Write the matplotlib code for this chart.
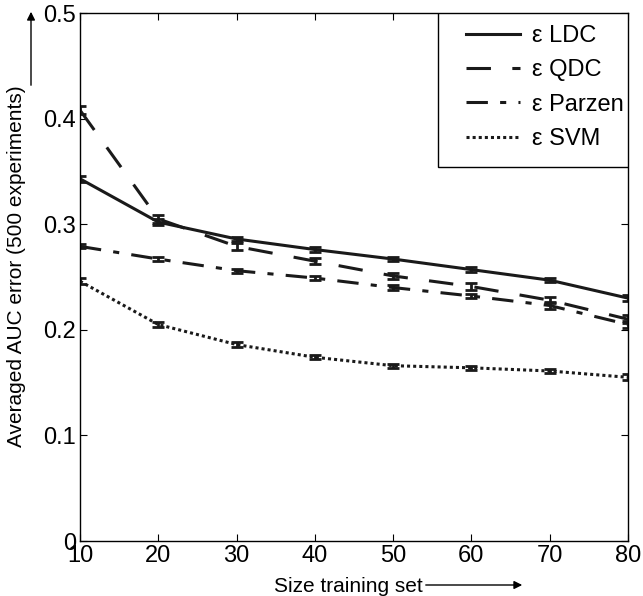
import matplotlib
matplotlib.use('Agg')
import matplotlib.pyplot as plt
from matplotlib.patches import Rectangle, FancyArrowPatch

plt.rcParams['font.family'] = ['Liberation Sans', 'DejaVu Sans']

# training set sizes
sizes = [10, 20, 30, 40, 50, 60, 70, 80]

# averaged AUC error per classifier
err_ldc = [0.343, 0.302, 0.286, 0.276, 0.267, 0.257, 0.247, 0.230]
err_qdc = [0.408, 0.305, 0.279, 0.265, 0.251, 0.241, 0.228, 0.210]
err_parzen = [0.279, 0.267, 0.256, 0.249, 0.240, 0.232, 0.223, 0.205]
err_svm = [0.246, 0.205, 0.186, 0.174, 0.166, 0.164, 0.161, 0.155]

# standard errors (500 experiments)
se_ldc = [0.003, 0.003, 0.002, 0.002, 0.002, 0.002, 0.002, 0.003]
se_qdc = [0.004, 0.004, 0.003, 0.003, 0.003, 0.003, 0.003, 0.004]
se_parzen = [0.002, 0.002, 0.002, 0.002, 0.002, 0.002, 0.003, 0.003]
se_svm = [0.003, 0.002, 0.002, 0.002, 0.002, 0.002, 0.002, 0.003]

labels = ['\u03b5 LDC', '\u03b5 QDC', '\u03b5 Parzen', '\u03b5 SVM']

W, H = 643, 596
fig = plt.figure(figsize=(W / 100, H / 100), dpi=100)
ax = fig.add_axes([80 / W, 1 - 541 / H, 548 / W, 528 / H])

styles = ['-', (0, (8, 7)), (0, (7, 4, 2, 4)), (0, (1, 1))]
series = [(err_ldc, se_ldc), (err_qdc, se_qdc), (err_parzen, se_parzen), (err_svm, se_svm)]
handles = []
for (y, e), ls, lab in zip(series, styles, labels):
    h = ax.errorbar(sizes, y, yerr=e, color='#1a1a1a', linestyle=ls, linewidth=2.2,
                    elinewidth=2, capsize=4, capthick=2, label=lab)
    handles.append(h)

ax.set_xlim(10, 80)
ax.set_ylim(0, 0.5)
ax.set_xticks(sizes)
ax.set_yticks([0, 0.1, 0.2, 0.3, 0.4, 0.5])
ax.set_yticklabels(['0', '0.1', '0.2', '0.3', '0.4', '0.5'])
ax.tick_params(direction='in', top=True, right=True, labelsize=17, length=5, pad=3)
for s in ax.spines.values():
    s.set_linewidth(1)

ax.set_ylabel('Averaged AUC error (500 experiments)', fontsize=15)
ax.yaxis.set_label_coords(-54 / 548, 0.52)
ax.set_xlabel('Size training set', fontsize=15)
ax.xaxis.set_label_coords(0.49, -36 / 528)

# legend box drawn separately so the padding matches
ax.add_patch(Rectangle(((438 - 80) / 548, (541 - 167) / 528), 190 / 548, 154 / 528,
                       transform=ax.transAxes, facecolor='white', edgecolor='black',
                       linewidth=1, zorder=4))
leg = ax.legend(handles=[h[0] for h in handles], labels=labels, loc='upper right',
                bbox_to_anchor=(624 / W, 1 - 25 / H), bbox_transform=fig.transFigure,
                fontsize=17, frameon=False, borderaxespad=0, borderpad=0,
                handlelength=2.3, handletextpad=0.5, labelspacing=0.52)
leg.set_zorder(5)

# arrows next to axis labels
fig.add_artist(FancyArrowPatch(
    (31 / W, 1 - 88 / H), (31 / W, 1 - 9 / H), transform=fig.transFigure,
    arrowstyle='-|>', mutation_scale=12, color='black', lw=1))
fig.add_artist(FancyArrowPatch(
    (423 / W, 1 - 585 / H), (525 / W, 1 - 585 / H), transform=fig.transFigure,
    arrowstyle='-|>', mutation_scale=12, color='black', lw=1))

fig.savefig('out.png', dpi=100)
